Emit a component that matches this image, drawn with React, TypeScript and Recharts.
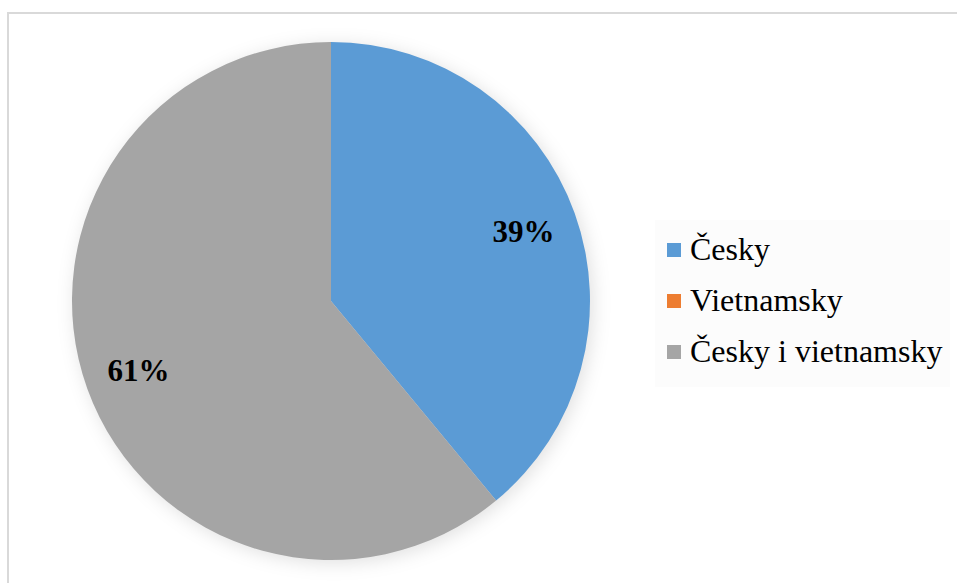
import React, { ReactElement } from 'react';

import { PieChart, Pie, Cell, Legend } from 'recharts';

// Chart data
const categories: Array<string> = ['Česky', 'Vietnamsky', 'Česky i vietnamsky'];
const shares: Array<number> = [39, 0, 61];
const colors: Array<string> = ['#5B9BD5', '#ED7D31', '#A5A5A5'];

const data = categories.map((name: string, i: number) => ({ name, value: shares[i] }));
const shadowData = [{ name: 'shadow', value: 1 }];

const RADIAN = Math.PI / 180;

/**
 * Percent label inside the slice
 */
const renderLabel = (props: any): ReactElement | null => {
  const { cx, cy, midAngle, outerRadius, value } = props;
  if (!value) return null;
  const r = outerRadius * 0.79;
  const x = cx + r * Math.cos(-midAngle * RADIAN);
  const y = cy + r * Math.sin(-midAngle * RADIAN);
  return (
    <text
      x={x}
      y={y}
      textAnchor="middle"
      dominantBaseline="central"
      fill="#000"
      fontFamily="'Liberation Serif', 'Times New Roman', serif"
      fontWeight="bold"
      fontSize={31}
    >
      {value}%
    </text>
  );
};

/**
 * Legend box on the right
 */
const renderLegend = (): ReactElement => (
  <div style={{ background: '#fcfcfc', padding: '4px 8px 10px 12px', fontFamily: "'Liberation Serif', 'Times New Roman', serif" }}>
    {categories.map((name: string, i: number) => (
      <div key={name} style={{ display: 'flex', alignItems: 'center', height: 51, fontSize: 32, color: '#000', whiteSpace: 'nowrap' }}>
        <span style={{ display: 'inline-block', width: 14, height: 14, background: colors[i], marginRight: 9 }} />
        {name}
      </div>
    ))}
  </div>
);

const App = (): ReactElement => {
  return (
    <div style={{ position: 'absolute', left: 0, top: 0, width: 957, height: 583, background: '#fff', overflow: 'hidden' }}>
      <div
        style={{
          position: 'absolute',
          left: 7,
          top: 12,
          width: 960,
          height: 580,
          borderTop: '2px solid #d9d9d9',
          borderLeft: '2px solid #d9d9d9',
        }}
      />
      <div style={{ position: 'absolute', left: 0, top: 0 }}>
        <PieChart width={957} height={583} margin={{ top: 0, right: 0, bottom: 0, left: 0 }}>
          <Pie
            data={shadowData}
            dataKey="value"
            cx={334}
            cy={304}
            outerRadius={259}
            stroke="none"
            isAnimationActive={false}
            legendType="none"
          >
            <Cell fill="rgba(0,0,0,0.12)" style={{ filter: 'blur(9px)' }} />
          </Pie>
          <Pie
            data={data}
            dataKey="value"
            nameKey="name"
            cx={331}
            cy={301}
            outerRadius={259}
            startAngle={90}
            endAngle={-270}
            stroke="none"
            label={renderLabel}
            labelLine={false}
            isAnimationActive={false}
          >
            {data.map((entry, i: number) => (
              <Cell key={entry.name} fill={colors[i]} />
            ))}
          </Pie>
          <Legend
            content={renderLegend}
            layout="vertical"
            wrapperStyle={{ position: 'absolute', left: 655, top: 220, width: 'auto' }}
          />
        </PieChart>
      </div>
    </div>
  );
};

export default App;
